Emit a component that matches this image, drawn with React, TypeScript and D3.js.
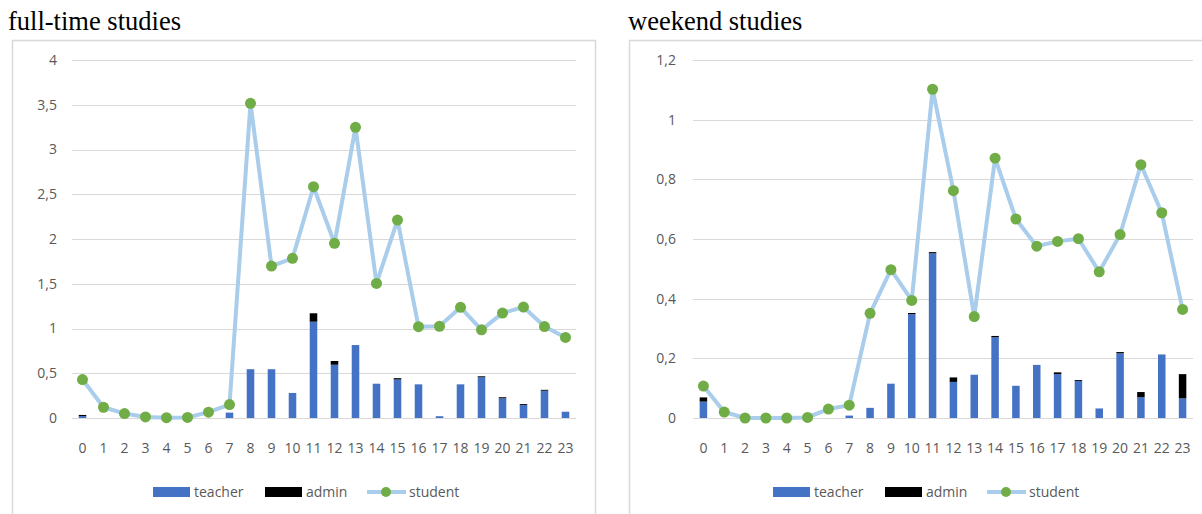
import React from "react";
import * as d3 from "d3";

// Hours of the day (x categories)
const hours: string[] = Array.from({ length: 24 }, (_, i) => String(i));

// Full-time studies
const ftTeacher: number[] = [0.022, 0, 0, 0, 0, 0, 0, 0.06, 0.545, 0.545, 0.28, 1.076, 0.595, 0.815, 0.383, 0.43, 0.376, 0.02, 0.376, 0.455, 0.22, 0.145, 0.305, 0.07];
const ftAdmin: number[] = [0.012, 0, 0, 0, 0, 0, 0, 0, 0, 0, 0, 0.094, 0.042, 0, 0, 0.015, 0, 0, 0, 0.011, 0.012, 0.01, 0.01, 0];
const ftStudent: number[] = [0.43, 0.12, 0.05, 0.012, 0.003, 0.006, 0.065, 0.15, 3.516, 1.698, 1.784, 2.584, 1.952, 3.248, 1.503, 2.212, 1.02, 1.025, 1.237, 0.985, 1.172, 1.24, 1.022, 0.9];
const ftTicks: number[] = [0, 0.5, 1, 1.5, 2, 2.5, 3, 3.5, 4];

// Weekend studies
const weTeacher: number[] = [0.055, 0, 0, 0, 0, 0, 0, 0.008, 0.034, 0.115, 0.348, 0.552, 0.121, 0.145, 0.271, 0.108, 0.178, 0.147, 0.124, 0.032, 0.217, 0.07, 0.213, 0.066];
const weAdmin: number[] = [0.014, 0, 0, 0, 0, 0, 0, 0, 0, 0, 0.004, 0.004, 0.015, 0, 0.004, 0, 0, 0.006, 0.003, 0, 0.004, 0.017, 0, 0.081];
const weStudent: number[] = [0.107, 0.02, 0.0, 0.0, 0.0, 0.002, 0.03, 0.043, 0.351, 0.497, 0.394, 1.102, 0.762, 0.34, 0.871, 0.667, 0.576, 0.592, 0.601, 0.49, 0.615, 0.849, 0.688, 0.364];
const weTicks: number[] = [0, 0.2, 0.4, 0.6, 0.8, 1, 1.2];

const seriesNames: string[] = ["teacher", "admin", "student"];

const TEACHER = "#4472C4";
const ADMIN = "#000000";
const LINE = "#A9CDEB";
const MARK = "#70AD47";
const GRID = "#D9D9D9";
const TEXT = "#595959";
const AXIS_FONT = "'Open Sans', sans-serif";

const fmt = (v: number) => String(+v.toFixed(1)).replace(".", ",");

interface PanelProps {
  title: string;
  titleX: number;
  boxX: number;
  boxW: number;
  plotL: number;
  plotR: number;
  yMax: number;
  ticks: number[];
  teacher: number[];
  admin: number[];
  student: number[];
  labelRight: number;
  legendX: number;
}

function Panel(p: PanelProps) {
  const top = 60;
  const bottom = 418;
  const x = d3.scaleBand<string>().domain(hours).range([p.plotL, p.plotR]).paddingInner(0.64).paddingOuter(0.32);
  const y = d3.scaleLinear().domain([0, p.yMax]).range([bottom, top]);
  const cx = (h: string) => (x(h) as number) + x.bandwidth() / 2;
  const line = d3
    .line<number>()
    .x((_, i) => cx(hours[i]))
    .y((d) => y(d));

  const lx = p.legendX;
  return (
    <g>
      <text x={p.titleX} y={30} fontFamily="'Liberation Serif', 'Times New Roman', serif" fontSize={26.5} fill="#000">
        {p.title}
      </text>
      <rect x={p.boxX + 0.5} y={40.5} width={p.boxW} height={490} fill="#fff" stroke={GRID} strokeWidth={1.5} />
      {p.ticks.map((t) => (
        <g key={t}>
          <line x1={p.plotL} x2={p.plotR} y1={Math.round(y(t)) + 0.5} y2={Math.round(y(t)) + 0.5} stroke={GRID} strokeWidth={1} />
          <text x={p.labelRight} y={y(t)} dy="0.35em" textAnchor="end" fontFamily={AXIS_FONT} fontSize={14} fill={TEXT}>
            {fmt(t)}
          </text>
        </g>
      ))}
      {hours.map((h, i) => (
        <g key={h}>
          <rect x={x(h)} width={x.bandwidth()} y={y(p.teacher[i])} height={bottom - y(p.teacher[i])} fill={TEACHER} />
          <rect
            x={x(h)}
            width={x.bandwidth()}
            y={y(p.teacher[i] + p.admin[i])}
            height={y(p.teacher[i]) - y(p.teacher[i] + p.admin[i])}
            fill={ADMIN}
          />
          <text x={cx(h)} y={448} dy="0.35em" textAnchor="middle" fontFamily={AXIS_FONT} fontSize={14} fill={TEXT}>
            {h}
          </text>
        </g>
      ))}
      <path d={line(p.student) as string} fill="none" stroke={LINE} strokeWidth={4} strokeLinejoin="round" strokeLinecap="round" />
      {p.student.map((v, i) => (
        <circle key={i} cx={cx(hours[i])} cy={y(v)} r={5.5} fill={MARK} />
      ))}
      {/* legend */}
      <g fontFamily={AXIS_FONT} fontSize={14} fill={TEXT}>
        <rect x={lx} y={487} width={37} height={10} fill={TEACHER} />
        <text x={lx + 41} y={492} dy="0.35em">{seriesNames[0]}</text>
        <rect x={lx + 112} y={487} width={37} height={10} fill={ADMIN} />
        <text x={lx + 153} y={492} dy="0.35em">{seriesNames[1]}</text>
        <line x1={lx + 214} x2={lx + 253} y1={492} y2={492} stroke={LINE} strokeWidth={4} />
        <circle cx={lx + 233} cy={492} r={5} fill={MARK} />
        <text x={lx + 256} y={492} dy="0.35em">{seriesNames[2]}</text>
      </g>
    </g>
  );
}

export default function App() {
  return (
    <svg width={1202} height={514} style={{ position: "absolute", left: 0, top: 0, background: "#fff" }}>
      <rect width={1202} height={514} fill="#fff" />
      <Panel
        title="full-time studies"
        titleX={8}
        boxX={12}
        boxW={583}
        plotL={72}
        plotR={576}
        yMax={4}
        ticks={ftTicks}
        teacher={ftTeacher}
        admin={ftAdmin}
        student={ftStudent}
        labelRight={57}
        legendX={153}
      />
      <Panel
        title="weekend studies"
        titleX={628}
        boxX={629}
        boxW={590}
        plotL={693}
        plotR={1193}
        yMax={1.2}
        ticks={weTicks}
        teacher={weTeacher}
        admin={weAdmin}
        student={weStudent}
        labelRight={676}
        legendX={773}
      />
    </svg>
  );
}
